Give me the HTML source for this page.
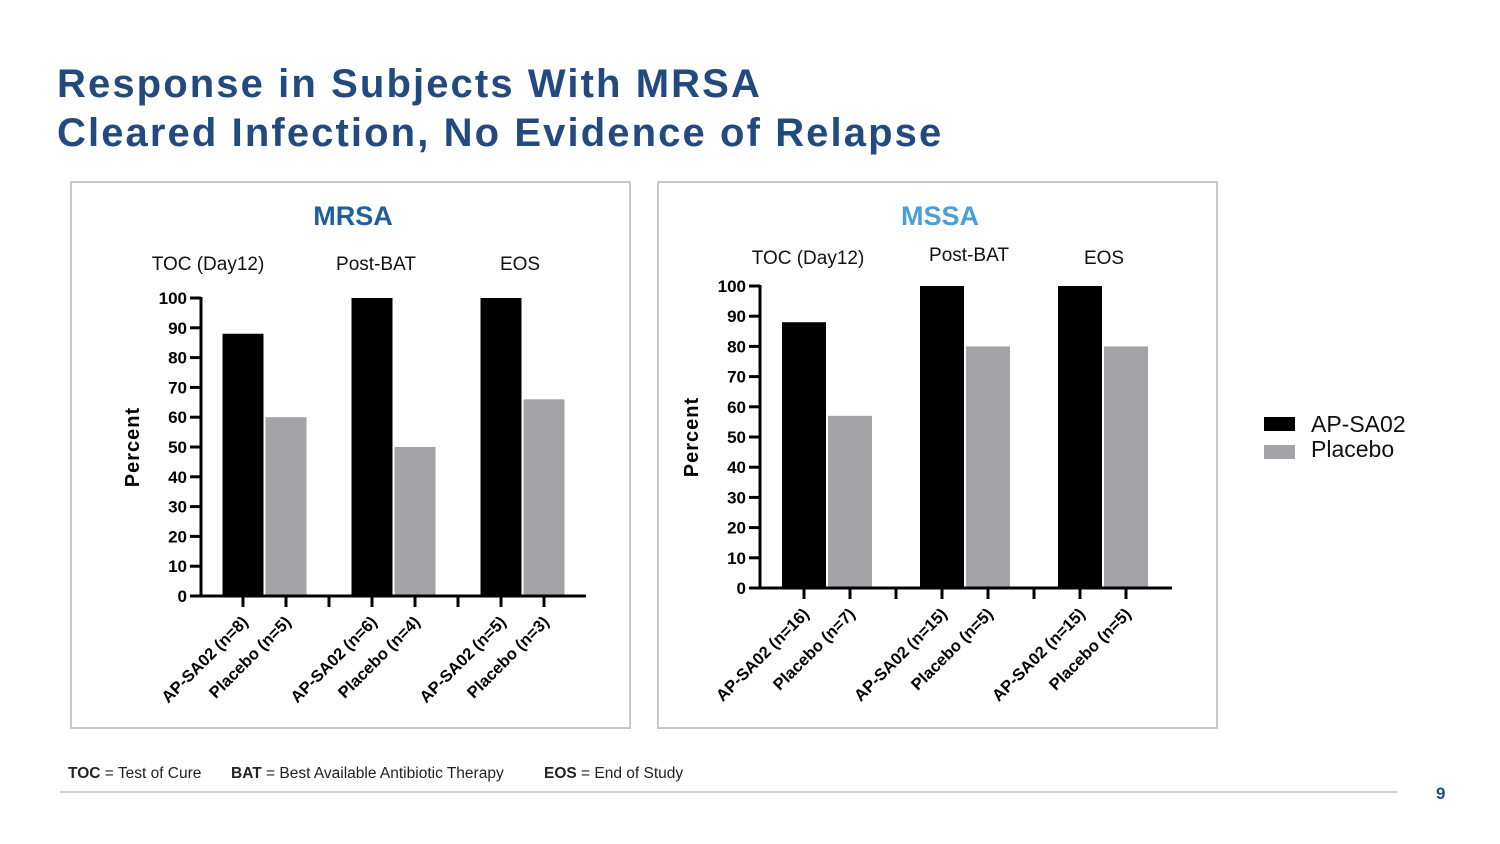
<!DOCTYPE html>
<html><head><meta charset="utf-8"><style>
body{margin:0;width:1500px;height:844px;background:#fff;position:relative;overflow:hidden;font-family:"Liberation Sans",sans-serif}
.title{position:absolute;left:57px;top:60px;font-size:40px;font-weight:bold;color:#234a7f;line-height:49px;letter-spacing:2.1px}
svg{position:absolute;left:0;top:0}
.foot{position:absolute;top:765px;font-size:15.5px;color:#222}
</style></head><body>
<div class="title">Response in Subjects With MRSA<br>Cleared Infection, No Evidence of Relapse</div>
<svg id="svg" width="1500" height="844"></svg>
<div class="foot" style="left:68px"><b>TOC</b> = Test of Cure</div>
<div class="foot" style="left:231px"><b>BAT</b> = Best Available Antibiotic Therapy</div>
<div class="foot" style="left:544px"><b>EOS</b> = End of Study</div>
<div style="position:absolute;left:60px;top:791px;width:1337px;height:2px;background:#d0d0d0"></div>
<div style="position:absolute;left:1436px;top:784px;font-size:17px;font-weight:bold;color:#234a7f">9</div>
<script>
const groups = ["TOC (Day12)","Post-BAT","EOS"];
const mrsaAP = [88,100,100];
const mrsaPl = [60,50,66];
const mrsaLabels = ["AP-SA02 (n=8)","Placebo (n=5)","AP-SA02 (n=6)","Placebo (n=4)","AP-SA02 (n=5)","Placebo (n=3)"];
const mssaAP = [88,100,100];
const mssaPl = [57,80,80];
const mssaLabels = ["AP-SA02 (n=16)","Placebo (n=7)","AP-SA02 (n=15)","Placebo (n=5)","AP-SA02 (n=15)","Placebo (n=5)"];
const yTicks = [0,10,20,30,40,50,60,70,80,90,100];

const NS="http://www.w3.org/2000/svg";
const svg=document.getElementById('svg');
function mk(tag,attrs,parent){const e=document.createElementNS(NS,tag);for(const k in attrs)e.setAttribute(k,attrs[k]);(parent||svg).appendChild(e);return e;}

function chart(cfg){
  const g=mk('g',{});
  
  
  const frame=mk('rect',{x:cfg.bx,y:182,width:559,height:546,fill:'#fff',stroke:'#c8c8c8','stroke-width':2},g);
  
  
  const t=mk('text',{x:cfg.bx+282,y:225,'text-anchor':'middle','font-size':27,'font-weight':'bold',fill:cfg.tcolor},g);
  t.textContent=cfg.title;
  
  
  const y=v=>cfg.y0-(cfg.y0-cfg.y100)*v/100;
  const x=i=>cfg.x0+i*cfg.step;
  groups.forEach((gname,k)=>{
    const e=mk('text',{x:cfg.gx[k],y:cfg.gy[k],'text-anchor':'middle','font-size':19,fill:'#111'},g);
    e.textContent=gname;
    
    
  });
  const slots=[0,1,3,4,6,7];
  for(let k=0;k<3;k++){
    [[cfg.ap[k],'#000','bar-ap-sa02'],[cfg.pl[k],'#a3a3a8','bar-placebo']].forEach((d,j)=>{
      const cx=x(slots[k*2+j]);
      const b=mk('rect',{x:cx-cfg.bw/2,y:y(d[0]),width:cfg.bw,height:y(0)-y(d[0]),fill:d[1]},g);
      
      
    });
  }
  mk('line',{x1:cfg.ax,y1:y(100)-1,x2:cfg.ax,y2:y(0)+1.5,stroke:'#000','stroke-width':3},g);
  yTicks.forEach(v=>{
    mk('line',{x1:cfg.ax-11,y1:y(v),x2:cfg.ax,y2:y(v),stroke:'#000','stroke-width':3},g);
    const e=mk('text',{x:cfg.ax-14,y:y(v)+6,'text-anchor':'end','font-size':17,'font-weight':'bold',fill:'#000'},g);
    e.textContent=v;
    
    
  });
  const yl=mk('text',{x:0,y:0,'text-anchor':'middle','font-size':20,'font-weight':'bold',fill:'#000','letter-spacing':1,transform:`translate(${cfg.ax-62},${(y(0)+y(100))/2}) rotate(-90)`},g);
  yl.textContent='Percent';
  
  
  mk('line',{x1:cfg.ax-1.5,y1:y(0),x2:cfg.xend,y2:y(0),stroke:'#000','stroke-width':3},g);
  for(let i=0;i<8;i++) mk('line',{x1:x(i),y1:y(0),x2:x(i),y2:y(0)+11,stroke:'#000','stroke-width':3},g);
  slots.forEach((s,i)=>{
    const px=x(s)+6,py=y(0)+27;
    const e=mk('text',{x:0,y:0,'text-anchor':'end','font-size':16.5,'font-weight':'bold',fill:'#000',transform:`translate(${px},${py}) rotate(-45)`},g);
    e.textContent=cfg.labels[i];
    
    
  });
}
chart({name:'mrsa-chart',bx:71,title:'MRSA',tcolor:'#1d5fa0',ap:mrsaAP,pl:mrsaPl,labels:mrsaLabels,
  y0:596,y100:298,ax:201,xend:586,x0:243,step:43,bw:41,gx:[208,376,520],gy:[270,270,270]});
chart({name:'mssa-chart',bx:658,title:'MSSA',tcolor:'#4a9fd8',ap:mssaAP,pl:mssaPl,labels:mssaLabels,
  y0:588,y100:286,ax:760,xend:1172,x0:804,step:46,bw:44,gx:[808,969,1104],gy:[264,261,264]});
const l1=mk('rect',{x:1264,y:417,width:31,height:14,fill:'#000'});


const l2=mk('rect',{x:1264,y:445,width:31,height:14,fill:'#a3a3a8'});


const t1=mk('text',{x:1311,y:432,'font-size':23,fill:'#111'});t1.textContent='AP-SA02';


const t2=mk('text',{x:1311,y:457,'font-size':23,fill:'#111'});t2.textContent='Placebo';


</script>
</body></html>
